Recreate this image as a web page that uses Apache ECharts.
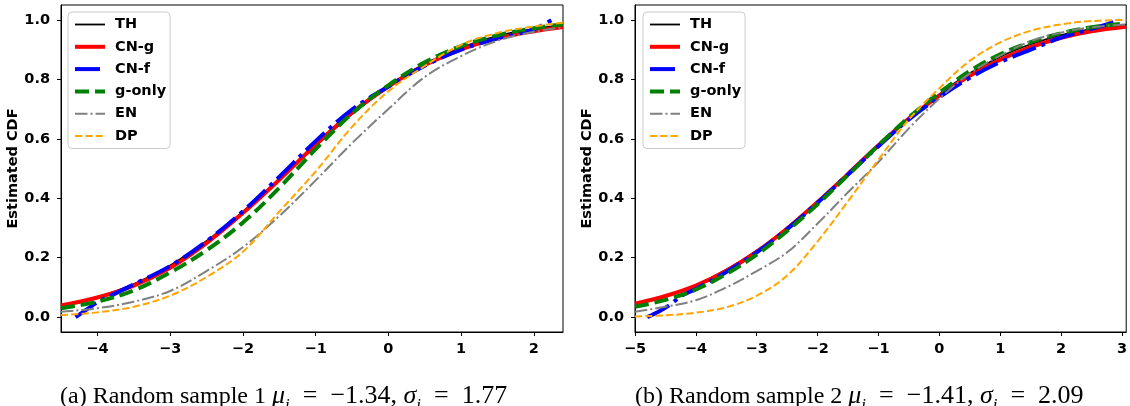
<!DOCTYPE html>
<html>
<head>
<meta charset="utf-8">
<script src="https://cdn.jsdelivr.net/npm/echarts@6/dist/echarts.min.js"></script>
<style>html,body{margin:0;padding:0;background:#fff;}#c{width:1130px;height:406px;}</style>
</head>
<body>
<div id="c"></div>
<script>
// ---- Panel (a) data ----
const xsA = [-4.5, -4, -3.5, -3, -2.5, -2, -1.5, -1, -0.5, 0, 0.5, 1, 1.5, 2, 2.4];
const thA    = [0.037, 0.066, 0.111, 0.174, 0.256, 0.355, 0.464, 0.576, 0.683, 0.775, 0.851, 0.907, 0.946, 0.970, 0.981];
const cngA   = [0.039, 0.066, 0.106, 0.166, 0.249, 0.350, 0.462, 0.580, 0.688, 0.776, 0.848, 0.901, 0.938, 0.962, 0.976];
const gonlyA = [0.030, 0.052, 0.090, 0.150, 0.225, 0.318, 0.435, 0.565, 0.685, 0.780, 0.857, 0.912, 0.948, 0.972, 0.985];
const enA    = [0.018, 0.030, 0.052, 0.088, 0.155, 0.235, 0.340, 0.460, 0.585, 0.700, 0.808, 0.878, 0.930, 0.960, 0.975];
const dpA    = [0.007, 0.016, 0.035, 0.072, 0.135, 0.220, 0.355, 0.490, 0.640, 0.760, 0.845, 0.916, 0.956, 0.978, 0.990];
const cnfAx  = [-4.3, -4.15, -4, -3.75, -3.5, -3, -2.5, -2, -1.5, -1, -0.5, 0, 0.5, 1, 1.5, 1.75, 2, 2.1, 2.25];
const cnfA   = [0.0, 0.025, 0.05, 0.08, 0.11, 0.172, 0.255, 0.356, 0.472, 0.592, 0.698, 0.776, 0.846, 0.900, 0.938, 0.952, 0.968, 0.980, 1.0];

// ---- Panel (b) data ----
const xsB = [-5, -4.5, -4, -3.5, -3, -2.5, -2, -1.5, -1, -0.5, 0, 0.5, 1, 1.5, 2, 2.5, 3.07];
const thB    = [0.043, 0.070, 0.108, 0.159, 0.223, 0.301, 0.389, 0.483, 0.578, 0.668, 0.750, 0.820, 0.876, 0.918, 0.949, 0.969, 0.984];
const cngB   = [0.045, 0.071, 0.106, 0.156, 0.220, 0.298, 0.387, 0.482, 0.578, 0.668, 0.745, 0.812, 0.866, 0.908, 0.940, 0.962, 0.977];
const gonlyB = [0.035, 0.058, 0.093, 0.145, 0.210, 0.290, 0.380, 0.478, 0.578, 0.672, 0.755, 0.828, 0.884, 0.925, 0.955, 0.975, 0.988];
const enB    = [0.018, 0.035, 0.057, 0.100, 0.155, 0.218, 0.315, 0.420, 0.522, 0.635, 0.735, 0.820, 0.880, 0.928, 0.957, 0.975, 0.985];
const dpB    = [0.002, 0.006, 0.015, 0.033, 0.072, 0.140, 0.255, 0.390, 0.530, 0.665, 0.770, 0.862, 0.924, 0.963, 0.985, 0.996, 1.0];
const cnfBx  = [-4.8, -4.6, -4.4, -4.25, -4, -3.5, -3, -2.5, -2, -1.5, -1, -0.5, 0, 0.5, 1, 1.5, 2, 2.5, 2.75, 2.96];
const cnfB   = [0.0, 0.02, 0.045, 0.07, 0.095, 0.152, 0.218, 0.296, 0.385, 0.480, 0.575, 0.665, 0.740, 0.805, 0.858, 0.900, 0.940, 0.970, 0.985, 1.0];

// ---- ticks & labels ----
const yTicks = [0, 0.2, 0.4, 0.6, 0.8, 1.0];
const xTicksA = [-4, -3, -2, -1, 0, 1, 2];
const xTicksB = [-5, -4, -3, -2, -1, 0, 1, 2, 3];
const names = ['TH', 'CN-g', 'CN-f', 'g-only', 'EN', 'DP'];
const captionA = ['(a) Random sample 1 ', '\u2212', '1.34', '1.77'];
const captionB = ['(b) Random sample 2 ', '\u2212', '1.41', '2.09'];

const styles = {
  'TH':     { color: '#000000', width: 1.8, type: 'solid' },
  'CN-g':   { color: '#ff0000', width: 4, type: 'solid' },
  'CN-f':   { color: '#0000ff', width: 4, type: [25, 6, 4, 6] },
  'g-only': { color: '#008000', width: 4, type: [14, 6] },
  'EN':     { color: '#808080', width: 2, type: [12.5, 3, 2, 3] },
  'DP':     { color: '#ffa500', width: 2, type: [7.2, 3.1] }
};

const pair = (xs, ys) => xs.map((x, i) => [x, ys[i]]);
const FONT = 'DejaVu Sans';

function mkSeries(name, xs, ys, idx) {
  const s = styles[name];
  return {
    name, type: 'line', xAxisIndex: idx, yAxisIndex: idx,
    data: pair(xs, ys), symbol: 'none', smooth: 0.35,
    color: s.color,
    lineStyle: { color: s.color, width: s.width, type: s.type, cap: 'butt' },
    emphasis: { disabled: true }, silent: true
  };
}

const series = [
  mkSeries('TH', xsA, thA, 0),
  mkSeries('CN-g', xsA, cngA, 0),
  mkSeries('CN-f', cnfAx, cnfA, 0),
  mkSeries('g-only', xsA, gonlyA, 0),
  mkSeries('EN', xsA, enA, 0),
  mkSeries('DP', xsA, dpA, 0),
  mkSeries('TH', xsB, thB, 1),
  mkSeries('CN-g', xsB, cngB, 1),
  mkSeries('CN-f', cnfBx, cnfB, 1),
  mkSeries('g-only', xsB, gonlyB, 1),
  mkSeries('EN', xsB, enB, 1),
  mkSeries('DP', xsB, dpB, 1)
];

const fmtX = v => (v < 0 ? '\u2212' + Math.abs(v) : String(v));
function mkX(idx, min, max, ticks) {
  return {
    type: 'value', gridIndex: idx, min, max,
    axisLine: { show: true, onZero: false, lineStyle: { color: '#000', width: 1 } },
    axisTick: { show: true, length: 4, inside: false, customValues: ticks, lineStyle: { color: '#000' } },
    axisLabel: { customValues: ticks, formatter: fmtX, margin: 10, color: '#000', fontFamily: FONT, fontWeight: 'bold', fontSize: 14.5 },
    splitLine: { show: false }
  };
}
function mkY(idx) {
  return {
    type: 'value', gridIndex: idx, min: -0.05, max: 1.05,
    name: 'Estimated CDF', nameLocation: 'middle', nameGap: 35, nameRotate: 90,
    nameTextStyle: { color: '#000', fontFamily: FONT, fontWeight: 'bold', fontSize: 14.5 },
    axisLine: { show: true, onZero: false, lineStyle: { color: '#000', width: 1 } },
    axisTick: { show: true, length: 4, inside: false, customValues: yTicks, lineStyle: { color: '#000' } },
    axisLabel: { customValues: yTicks, formatter: v => v.toFixed(1), margin: 11, color: '#000', fontFamily: FONT, fontWeight: 'bold', fontSize: 14.5 },
    splitLine: { show: false }
  };
}
function mkLegend(left) {
  return {
    show: true, orient: 'vertical', left, top: 12,
    data: names.map(n => ({ name: n, lineStyle: { color: styles[n].color, width: styles[n].width, type: styles[n].type, cap: 'butt' } })),
    itemWidth: 30, itemHeight: 14, itemGap: 7.3,
    padding: [5, 4, 5, 5],
    itemStyle: { opacity: 0, borderWidth: 0 },
    backgroundColor: 'rgba(255,255,255,0.8)', borderColor: '#cccccc', borderWidth: 1, borderRadius: 4,
    selectedMode: false,
    textStyle: { color: '#000', fontFamily: FONT, fontWeight: 'bold', fontSize: 14.5, padding: [0, 0, 0, 5] }
  };
}
const SERIF = 'Liberation Serif';
const capRich = {
  n: { fontFamily: SERIF, fontSize: 24, color: '#000', lineHeight: 26, verticalAlign: 'bottom' },
  m: { fontFamily: SERIF, fontSize: 26, color: '#000', lineHeight: 26, verticalAlign: 'bottom' },
  i: { fontFamily: SERIF, fontStyle: 'italic', fontSize: 26, color: '#000', lineHeight: 26, verticalAlign: 'bottom' },
  s: { fontFamily: SERIF, fontStyle: 'italic', fontSize: 17, color: '#000', lineHeight: 14, verticalAlign: 'bottom', padding: [0, 0, -5, 0] }
};
function capText(c) {
  return '{n|' + c[0] + '}{i|\u03bc}{s|i}{m|  =  ' + c[1] + c[2] + ', }{i|\u03c3}{s|i}{m|  =  ' + c[3] + '}';
}

const chart = echarts.init(document.getElementById('c'), null, { renderer: 'canvas' });
chart.setOption({
  animation: false,
  backgroundColor: '#ffffff',
  grid: [
    { left: 61, top: 5, width: 502, height: 327, show: true, borderColor: '#000', borderWidth: 1, backgroundColor: 'transparent', containLabel: false },
    { left: 635, top: 5, right: 0, height: 327, show: true, borderColor: '#000', borderWidth: 1, backgroundColor: 'transparent', containLabel: false }
  ],
  xAxis: [mkX(0, -4.5, 2.4, xTicksA), mkX(1, -5, 3.07, xTicksB)],
  yAxis: [mkY(0), mkY(1)],
  legend: [mkLegend(68), mkLegend(643)],
  series,
  graphic: [
    { type: 'text', left: 60, top: 383, silent: true, style: { text: capText(captionA), rich: capRich } },
    { type: 'text', left: 635, top: 383, silent: true, style: { text: capText(captionB), rich: capRich } }
  ]
});
</script>
</body>
</html>
